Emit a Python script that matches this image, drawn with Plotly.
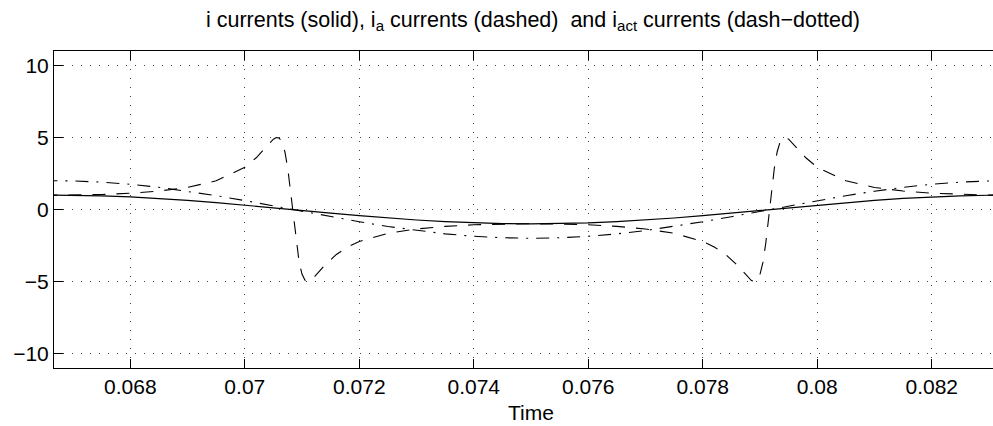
import plotly.graph_objects as go

# time samples (s)
t_main = [0.0665, 0.0670, 0.0675, 0.0680, 0.0685, 0.0690, 0.0695, 0.0700, 0.0705, 0.0710,
          0.0715, 0.0720, 0.0725, 0.0730, 0.0735, 0.0740, 0.0745, 0.0750, 0.0755, 0.0760,
          0.0765, 0.0770, 0.0775, 0.0780, 0.0785, 0.0790, 0.0795, 0.0800, 0.0805, 0.0810,
          0.0815, 0.0820, 0.0825, 0.0830, 0.0835]

# i currents (solid)
i_solid = [1.0, 0.99, 0.95, 0.88, 0.77, 0.64, 0.48, 0.31, 0.12, -0.06,
           -0.25, -0.43, -0.59, -0.73, -0.84, -0.93, -0.98, -1.0, -0.98, -0.93,
           -0.84, -0.73, -0.59, -0.43, -0.25, -0.06, 0.12, 0.31, 0.48, 0.64,
           0.77, 0.88, 0.95, 0.99, 1.0]

# i_act currents (dash-dotted)
i_act = [2.0, 1.98, 1.9, 1.75, 1.54, 1.27, 0.96, 0.62, 0.25, -0.13,
         -0.5, -0.85, -1.18, -1.46, -1.69, -1.86, -1.96, -2.0, -1.96, -1.86,
         -1.69, -1.46, -1.18, -0.85, -0.5, -0.13, 0.25, 0.62, 0.96, 1.27,
         1.54, 1.75, 1.9, 1.98, 2.0]

# i_a currents (dashed)
t_a = [0.0665, 0.0670, 0.0675, 0.0680, 0.0685, 0.0690, 0.0695, 0.0700, 0.0702, 0.0704,
       0.0705, 0.07055, 0.0706, 0.07065, 0.0707, 0.07075, 0.0708, 0.07085, 0.0709, 0.07095,
       0.0710, 0.07105, 0.0711, 0.07115, 0.0712, 0.0713, 0.0714, 0.0716, 0.0718, 0.0720,
       0.0725, 0.0730, 0.0735, 0.0740, 0.0745, 0.0750, 0.0755, 0.0760, 0.0765, 0.0770,
       0.0775, 0.0780, 0.0782, 0.0784, 0.0786, 0.0787, 0.0788, 0.07885, 0.0789, 0.07895,
       0.0790, 0.07905, 0.0791, 0.07915, 0.0792, 0.07925, 0.0793, 0.07935, 0.0794, 0.07945,
       0.0795, 0.0796, 0.0798, 0.0800, 0.0805, 0.0810, 0.0815, 0.0820, 0.0825, 0.0830, 0.0835]
i_a = [0.99, 1.0, 1.04, 1.13, 1.28, 1.53, 1.99, 2.93, 3.59, 4.46,
       4.88, 4.99, 4.96, 4.68, 4.01, 2.86, 1.24, -0.62, -2.36, -3.69,
       -4.50, -4.90, -5.00, -4.93, -4.75, -4.31, -3.86, -3.12, -2.60, -2.22,
       -1.65, -1.35, -1.17, -1.06, -1.01, -0.99, -1.01, -1.06, -1.17, -1.35,
       -1.65, -2.22, -2.60, -3.12, -3.86, -4.31, -4.75, -4.93, -5.00, -4.90,
       -4.50, -3.69, -2.36, -0.62, 1.24, 2.86, 4.01, 4.68, 4.96, 4.99,
       4.88, 4.46, 3.59, 2.93, 1.99, 1.53, 1.28, 1.13, 1.04, 1.0, 0.99]

x_ticks = [0.068, 0.070, 0.072, 0.074, 0.076, 0.078, 0.080, 0.082]
x_tick_text = ["0.068", "0.07", "0.072", "0.074", "0.076", "0.078", "0.08", "0.082"]
y_ticks = [-10, -5, 0, 5, 10]

FONT = "Liberation Sans, Arial, Helvetica, sans-serif"
FS = 21

fig = go.Figure()
fig.add_trace(go.Scatter(x=t_main, y=i_solid, mode="lines",
                         line=dict(color="black", width=1.2), showlegend=False))
fig.add_trace(go.Scatter(x=t_a, y=i_a, mode="lines",
                         line=dict(color="black", width=1.1, dash="13px,11px"), showlegend=False))
fig.add_trace(go.Scatter(x=t_main, y=i_act, mode="lines",
                         line=dict(color="black", width=1.1, dash="13px,8px,2px,8px"), showlegend=False))

fig.update_layout(
    width=993, height=426,
    margin=dict(l=54, r=0, t=51, b=58, autoexpand=False),
    paper_bgcolor="white", plot_bgcolor="white",
    font=dict(family=FONT, size=FS, color="black"),
    title=dict(text="i currents (solid), i<sub>a</sub> currents (dashed)  and i<sub>act</sub> currents (dash\u2212dotted)",
               x=533 / 993, xref="container", xanchor="center",
               y=1 - 19 / 426, yref="container", yanchor="middle",
               font=dict(family=FONT, size=21.5, color="black")),
    xaxis=dict(range=[0.066667, 0.08307], tickvals=x_ticks, ticktext=x_tick_text,
               showline=True, linecolor="black", linewidth=1, mirror="ticks",
               ticks="inside", ticklen=9, tickcolor="black", tickwidth=1,
               showgrid=True, gridcolor="#444444", gridwidth=1, griddash="1px,8px",
               zeroline=False, tickfont=dict(size=FS)),
    yaxis=dict(range=[-11, 11], tickvals=y_ticks,
               showline=True, linecolor="black", linewidth=1, mirror=False,
               ticks="inside", ticklen=9, tickcolor="black", tickwidth=1,
               showgrid=True, gridcolor="#444444", gridwidth=1, griddash="1px,8px",
               zeroline=False, tickfont=dict(size=FS)),
    annotations=[dict(text="Time", xref="paper", yref="paper",
                      x=(531 - 54) / 939, y=-(412 - 368) / 317,
                      xanchor="center", yanchor="middle", showarrow=False,
                      font=dict(family=FONT, size=FS, color="black"))],
)

fig.write_html("out.html",
               config={"displayModeBar": False},
               post_script="document.body.style.margin='0';document.body.style.padding='0';document.body.style.overflow='hidden';")
